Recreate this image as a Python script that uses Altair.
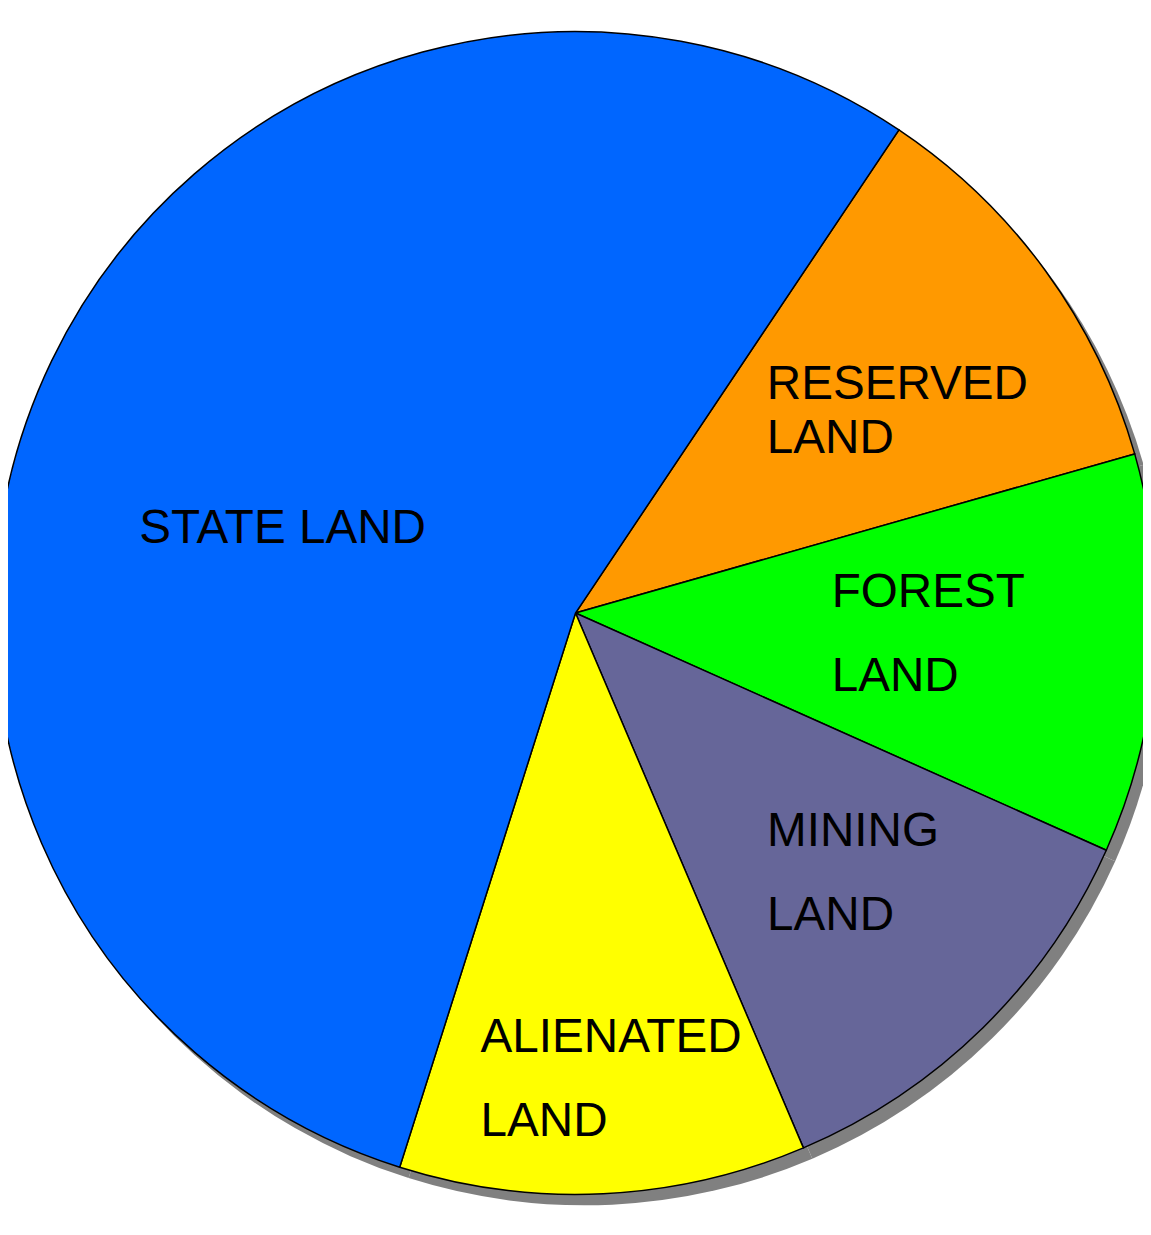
import math
import altair as alt
import pandas as pd

categories = ["RESERVED LAND", "FOREST LAND", "MINING LAND", "ALIENATED LAND", "STATE LAND"]
values = [11.2, 11.1, 11.9, 11.3, 54.5]
colors = ["#ff9900", "#00ff00", "#666699", "#ffff00", "#0066ff"]
label_text = ["RESERVED\nLAND", "FOREST\nLAND", "MINING\nLAND", "ALIENATED\nLAND", "STATE LAND"]

df = pd.DataFrame({"cat": categories, "value": values, "label": label_text,
                   "order": list(range(len(categories)))})
total = float(sum(values))

start = math.radians(33.8)
R = 586
W, H = 1144, 1210

theta_scale = alt.Scale(domain=[0, total], range=[start, start + 2 * math.pi])
base = alt.Chart(df).encode(
    theta=alt.Theta("value:Q", stack=True, scale=theta_scale),
    order=alt.Order("order:Q"),
)

shadow = base.mark_arc(
    color="#808080", outerRadius=R, x=W / 2 + 9, y=H / 2 + 11
)

pie = base.mark_arc(outerRadius=R, stroke="black", strokeWidth=1.5).encode(
    color=alt.Color("cat:N", scale=alt.Scale(domain=categories, range=colors), legend=None)
)

text_base = alt.Chart(df).transform_window(
    cum="sum(value)", sort=[alt.SortField("order")], frame=[None, 0]
).transform_calculate(mid="datum.cum - datum.value / 2")


def label(cat, radius, dx, dy, align, line_height):
    return text_base.transform_filter(alt.datum.cat == cat).mark_text(
        radius=radius, dx=dx, dy=dy, align=align, baseline="middle",
        font="Liberation Sans", fontSize=48, lineBreak="\n", lineHeight=line_height,
        color="black",
    ).encode(
        theta=alt.Theta("mid:Q", stack=None, scale=theta_scale),
        text="label:N",
    )


labels = [
    label("RESERVED LAND", 356, -95, -20.5, "left", 55),
    label("FOREST LAND", 300, -41, -42, "left", 85),
    label("MINING LAND", 371, -67, -44, "left", 85),
    label("ALIENATED LAND", 466, -118, -37, "left", 85),
    label("STATE LAND", 190, -124, -2, "center", 85),
]

chart = alt.layer(shadow, pie, *labels).properties(
    width=W, height=H, padding=0, autosize=alt.AutoSizeParams(type="none")
).configure_view(stroke=None)

chart.save("out.html", embed_options={"renderer": "svg", "actions": False})
